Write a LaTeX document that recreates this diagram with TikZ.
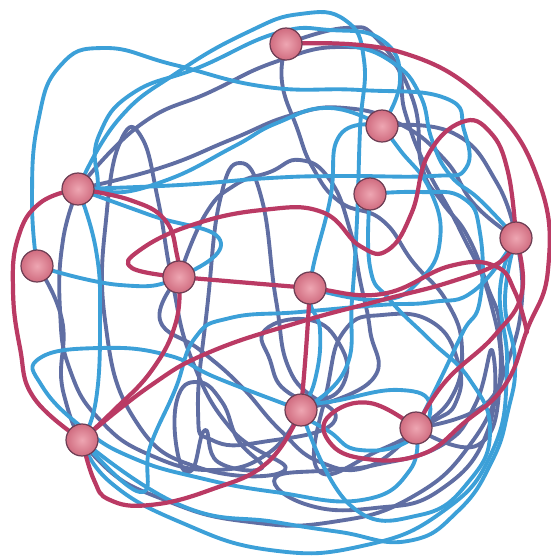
\documentclass[tikz,border=0pt]{standalone}
\usepackage{xcolor}
\usepackage{tikz}
\usetikzlibrary{shadings}

\definecolor{yarnred}{RGB}{186,58,100}
\definecolor{yarnblue}{RGB}{60,160,216}
\definecolor{yarnslate}{RGB}{96,110,163}
\definecolor{beadin}{RGB}{238,166,178}
\definecolor{beadout}{RGB}{208,108,128}
\definecolor{beadrim}{RGB}{110,62,84}

\pgfdeclarelayer{yarn}
\pgfsetlayers{yarn,main}

\begin{document}
\begin{tikzpicture}[
        x=0.02cm, y=-0.02cm,
        % Define styles for the tangle
        bead/.style={circle, draw=beadrim, line width=0.7pt, minimum size=0.64cm, inner sep=0pt,
                     shading=radial, inner color=beadin, outer color=beadout},
        blueyarn/.style={yarnblue, line width=2.2pt, line cap=round, line join=round},
        slateyarn/.style={yarnslate, line width=2.2pt, line cap=round, line join=round},
        redyarn/.style={yarnred, line width=2.4pt, line cap=round, line join=round}
    ]
        \useasboundingbox (0,0) rectangle (551,556);

        % --------------------------------------------------------
        % Beads
        % --------------------------------------------------------
        \node[bead] (top)      at (286,44)  {};
        \node[bead] (upright)  at (382,126) {};
        \node[bead] (upleft)   at (78,189)  {};
        \node[bead] (midright) at (370,194) {};
        \node[bead] (right)    at (516,238) {};
        \node[bead] (left)     at (37,266)  {};
        \node[bead] (midleft)  at (179,277) {};
        \node[bead] (centre)   at (310,288) {};
        \node[bead] (lowmid)   at (301,410) {};
        \node[bead] (lowright) at (416,428) {};
        \node[bead] (lowleft)  at (82,440)  {};

        \begin{pgfonlayer}{yarn}
        % --------------------------------------------------------
        % Slate strands
        % --------------------------------------------------------
        \draw[slateyarn] plot[smooth, tension=0.8] coordinates {(upleft.center) (140,125) (210,92) (275,62) (340,47) (393,62) (405,112) (425,165) (460,230) (490,300) (500,380) (478,445) (lowright.center)};
        \draw[slateyarn] plot[smooth cycle, tension=0.8] coordinates {(105,320) (107,210) (122,138) (142,138) (158,200) (172,280) (192,360) (232,430) (285,470) (200,468) (135,420)};
        \draw[slateyarn] plot[smooth cycle, tension=0.8] coordinates {(198,410) (208,300) (220,200) (240,163) (262,200) (276,300) (292,375) (335,420) (262,442) (212,440)};
        \draw[slateyarn] plot[smooth, tension=0.8] coordinates {(upleft.center) (160,168) (230,140) (292,115) (345,108) (400,124) (445,160) (475,205) (right.center)};
        \draw[slateyarn] plot[smooth, tension=0.8] coordinates {(left.center) (62,320) (64,395) (100,462) (170,502) (250,522) (332,522) (412,497) (472,442) (505,370) (522,300) (right.center)};
        \draw[slateyarn] plot[smooth, tension=0.8] coordinates {(upleft.center) (63,240) (60,310) (70,370) (100,420) (150,455) (215,470) (270,452) (lowmid.center)};
        \draw[slateyarn] plot[smooth cycle, tension=0.8] coordinates {(178,455) (177,400) (198,382) (222,402) (238,440) (262,468) (218,462) (205,430) (192,470)};
        \draw[slateyarn] plot[smooth cycle, tension=0.8] coordinates {(318,470) (328,385) (345,330) (382,315) (432,322) (458,362) (456,402) (432,422) (380,450)};
        \draw[slateyarn] plot[smooth, tension=0.8] coordinates {(top.center) (345,28) (378,40) (413,100) (422,167) (442,202) (467,235) (487,285) (500,332) (490,400) (lowright.center)};
        \draw[slateyarn] plot[smooth, tension=0.8] coordinates {(top.center) (282,82) (297,128) (313,168) (340,202) (382,220) (413,262) (447,302) (462,350) (450,400) (lowright.center)};
        \draw[slateyarn] plot[smooth, tension=0.8] coordinates {(upright.center) (453,133) (497,183) (right.center)};
        \draw[slateyarn] plot[smooth cycle, tension=0.8] coordinates {(275,478) (330,470) (375,465) (442,445) (475,405) (492,350) (488,430) (440,490) (375,508) (308,505)};
        \draw[slateyarn] plot[smooth, tension=0.8] coordinates {(midleft.center) (160,320) (200,350) (240,385) (280,430) (320,462) (370,466) (lowright.center)};
        \draw[slateyarn] plot[smooth, tension=0.8] coordinates {(midleft.center) (205,215) (235,185) (270,172) (300,160) (330,180) (350,230) (360,280) (370,330) (372,380) (lowmid.center)};
        \draw[slateyarn] plot[smooth cycle, tension=0.8] coordinates {(265,330) (310,320) (340,345) (345,380) (320,400) (285,390) (270,360)};

        % --------------------------------------------------------
        % Light blue strands
        % --------------------------------------------------------
        \draw[blueyarn] plot[smooth, tension=0.8] coordinates {(left.center) (32,200) (38,122) (60,66) (105,48) (175,65) (267,87) (360,90) (445,98) (464,130) (466,168) (432,176) (340,176) (270,178) (180,185) (upleft.center)};
        \draw[blueyarn] plot[smooth, tension=0.8] coordinates {(upleft.center) (118,120) (178,72) (248,32) (300,14) (345,20) (364,60) (360,130) (357,220) (352,300) (345,370) (lowmid.center)};
        \draw[blueyarn] plot[smooth, tension=0.8] coordinates {(lowleft.center) (110,482) (180,522) (270,550) (362,546) (442,512) (492,452) (507,370) (500,290) (right.center)};
        \draw[blueyarn] plot[smooth, tension=0.8] coordinates {(lowmid.center) (217,378) (167,355) (100,348) (40,358) (42,386) (83,428) (133,458) (200,478) (275,492) (362,500) (410,470) (lowright.center)};
        \draw[blueyarn] plot[smooth, tension=0.8] coordinates {(lowleft.center) (140,492) (150,447) (175,390) (195,338) (230,318) (300,312) (380,305) (432,302) (475,290) (right.center)};
        \draw[blueyarn] plot[smooth, tension=0.8] coordinates {(upright.center) (330,108) (277,123) (233,147) (167,180) (110,192) (97,173) (100,133) (133,93) (200,67) (277,33) (330,30) (382,40) (400,80) (upright.center)};
        \draw[blueyarn] plot[smooth, tension=0.8] coordinates {(upleft.center) (96,250) (100,320) (96,400) (lowleft.center)};
        \draw[blueyarn] plot[smooth, tension=0.8] coordinates {(midright.center) (420,192) (463,198) (480,233) (480,300) (463,332) (440,380) (lowright.center)};
        \draw[blueyarn] plot[smooth, tension=0.8] coordinates {(upright.center) (340,135) (330,200) (centre.center) (320,330) (315,380) (lowmid.center)};
        \draw[blueyarn] plot[smooth, tension=0.8] coordinates {(midright.center) (370,267) (390,300) (430,340) (470,380) (490,430) (470,480) (420,515) (350,505) (lowmid.center)};
        \draw[blueyarn] plot[smooth, tension=0.8] coordinates {(lowleft.center) (180,505) (275,522) (340,532) (408,541) (458,511) (492,461) (508,411) (515,361) (505,300) (right.center)};
        \draw[blueyarn] plot[smooth, tension=0.8] coordinates {(upleft.center) (150,215) (220,240) (midleft.center) (120,285) (left.center)};
        \draw[blueyarn] plot[smooth cycle, tension=0.8] coordinates {(lowmid.center) (340,400) (400,390) (430,405) (410,440) (360,450) (330,432)};
        \draw[blueyarn] plot[smooth, tension=0.8] coordinates {(upright.center) (400,150) (430,190) (440,240) (420,280) (380,300) (centre.center)};
        \draw[blueyarn] plot[smooth, tension=0.8] coordinates {(top.center) (345,45) (392,62) (420,95) (432,140) (450,175) (480,200) (right.center)};

        % --------------------------------------------------------
        % Red strands
        % --------------------------------------------------------
        \draw[redyarn] plot[smooth, tension=0.75] coordinates {(top.center) (400,52) (490,105) (540,185) (548,270) (527,330) (505,385) (465,422) (420,455) (360,458) (328,440) (330,415) (370,403) (lowright.center)};
        \draw[redyarn] plot[smooth, tension=0.75] coordinates {(lowright.center) (445,382) (495,335) (522,292) (right.center)};
        \draw[redyarn] plot[smooth, tension=0.75] coordinates {(right.center) (508,172) (490,132) (462,122) (428,155) (412,212) (388,250) (360,246) (322,212) (262,210) (192,225) (140,250) (132,268) (midleft.center)};
        \draw[redyarn] plot[smooth, tension=0.75] coordinates {(upleft.center) (130,200) (165,220) (177,255) (midleft.center)};
        \draw[redyarn] plot[smooth, tension=0.75] coordinates {(midleft.center) (250,283) (centre.center) (382,294) (450,266) (495,266) (515,292) (527,332)};
        \draw[redyarn] plot[smooth, tension=0.75] coordinates {(midleft.center) (176,322) (152,370) (112,412) (lowleft.center)};
        \draw[redyarn] plot[smooth, tension=0.75] coordinates {(lowleft.center) (150,386) (210,352) (300,322) (382,300) (450,282) (500,262) (right.center)};
        \draw[redyarn] plot[smooth, tension=0.75] coordinates {(lowleft.center) (94,480) (110,500) (150,505) (210,490) (268,462) (lowmid.center)};
        \draw[redyarn] plot[smooth, tension=0.75] coordinates {(centre.center) (306,350) (lowmid.center)};
        \draw[redyarn] plot[smooth, tension=0.75] coordinates {(upleft.center) (40,203) (18,238) (13,290) (20,348) (34,398) (lowleft.center)};
        \end{pgfonlayer}

    \end{tikzpicture}
\end{document}
